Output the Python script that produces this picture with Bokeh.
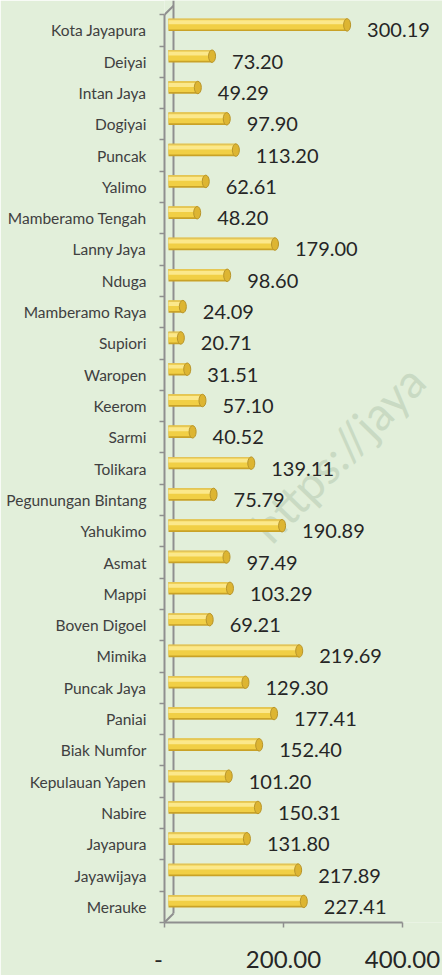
from bokeh.plotting import figure
from bokeh.models import Range1d, FixedTicker, ColumnDataSource
from bokeh.core.properties import value
from bokeh.embed import file_html
from bokeh.resources import INLINE

# ---------------- data ----------------
regions = ["Kota Jayapura", "Deiyai", "Intan Jaya", "Dogiyai", "Puncak", "Yalimo",
           "Mamberamo Tengah", "Lanny Jaya", "Nduga", "Mamberamo Raya", "Supiori",
           "Waropen", "Keerom", "Sarmi", "Tolikara", "Pegunungan Bintang", "Yahukimo",
           "Asmat", "Mappi", "Boven Digoel", "Mimika", "Puncak Jaya", "Paniai",
           "Biak Numfor", "Kepulauan Yapen", "Nabire", "Jayapura", "Jayawijaya", "Merauke"]
values = [300.19, 73.20, 49.29, 97.90, 113.20, 62.61, 48.20, 179.00, 98.60, 24.09,
          20.71, 31.51, 57.10, 40.52, 139.11, 75.79, 190.89, 97.49, 103.29, 69.21,
          219.69, 129.30, 177.41, 152.40, 101.20, 150.31, 131.80, 217.89, 227.41]
value_labels = ["%.2f" % v for v in values]
x_ticks = [0, 200, 400]
x_tick_labels = ["-\u00a0\u00a0", "200.00", "400.00"]
watermark = "https://jaya"

# ---------------- layout / style constants ----------------
W, H = 442, 975
LEFT, BOTTOM = 164, 50
X_PX = 0.595                       # pixels per value unit
X_END = (W - LEFT) / X_PX
N = len(regions)
Y_TOP = N - 0.5 + 14.3 / 31.47
Y_PX = (H - BOTTOM) / (Y_TOP + 0.5)
DEPTH_X = 4 / X_PX                 # bars sit slightly behind the front axis
BAR_LIFT = 5.5 / Y_PX
BAR_PX = 12.5
WALL_X = 9 / X_PX
WALL_DY = 9 / Y_PX

BG = "#E2EFDA"
GREY = "#8F8F8F"

ys = [N - 1 - i for i in range(N)]
src = ColumnDataSource(dict(
    y=ys,
    yb=[y + BAR_LIFT for y in ys],
    yb_body=[y + BAR_LIFT + 0.875 / Y_PX for y in ys],
    yb_hi=[y + BAR_LIFT + 2.6 / Y_PX for y in ys],
    yb_rim=[y + BAR_LIFT + 5.6 / Y_PX for y in ys],
    right=[v + DEPTH_X for v in values],
    label=value_labels,
))

p = figure(width=W, height=H, output_backend="svg", toolbar_location=None,
           x_range=Range1d(0, X_END), y_range=Range1d(-0.5, Y_TOP),
           min_border_left=LEFT, min_border_right=0, min_border_top=0,
           min_border_bottom=BOTTOM)
p.background_fill_color = BG
p.border_fill_color = BG
p.outline_line_color = None
p.xgrid.visible = False
p.ygrid.visible = False

# watermark
p.text(x=[95 / X_PX], y=[Y_TOP - 535 / Y_PX], text=[watermark], angle=0.80,
       text_font=value("Lato"), text_font_size="46px", text_color="#C9DAC3",
       text_baseline="alphabetic", text_align="left")

# 3D wall lines
p.segment(x0=[WALL_X, 0, 0], y0=[-0.5 + WALL_DY, N - 0.5, -0.5],
          x1=[WALL_X, WALL_X, WALL_X], y1=[Y_TOP, N - 0.5 + WALL_DY, -0.5 + WALL_DY],
          line_color=GREY, line_width=2)

# cylinder bars
p.hbar(y="yb", left=DEPTH_X, right="right", height=BAR_PX / Y_PX, source=src,
       fill_color="#C9A227", line_color=None)
p.hbar(y="yb_body", left=DEPTH_X, right="right", height=10.75 / Y_PX, source=src,
       fill_color="#F1CF45", line_color=None)
p.hbar(y="yb_hi", left=DEPTH_X, right="right", height=4 / Y_PX, source=src,
       fill_color="#FBE88C", line_color=None)
p.hbar(y="yb_rim", left=DEPTH_X, right="right", height=1.2 / Y_PX, source=src,
       fill_color="#E2C45A", line_color=None)
p.ellipse(x="right", y="yb", width=7, height=BAR_PX, width_units="screen",
          height_units="screen", source=src, fill_color="#DDB532",
          line_color="#B8952A", line_width=1)

# value labels
p.text(x="right", y="y", text="label", source=src, x_offset=20,
       text_baseline="middle", text_align="left", text_font=value("Lato"),
       text_font_size="20px", text_color="#262626")

# y axis (categories)
ya = p.yaxis[0]
ya.ticker = FixedTicker(ticks=ys, minor_ticks=[k - 0.5 for k in range(N + 1)])
ya.major_label_overrides = {y: name for y, name in zip(ys, regions)}
ya.bounds = (-0.5, N - 0.5)
ya.major_tick_out = 0
ya.major_tick_in = 0
ya.minor_tick_out = 5
ya.minor_tick_in = 0
ya.minor_tick_line_color = GREY
ya.minor_tick_line_width = 1.5
ya.axis_line_color = GREY
ya.axis_line_width = 2
ya.major_label_standoff = 13
ya.major_label_text_font = "Lato"
ya.major_label_text_font_size = "15.5px"
ya.major_label_text_color = "#404040"

# x axis
xa = p.xaxis[0]
xa.ticker = FixedTicker(ticks=x_ticks, minor_ticks=[])
xa.major_label_overrides = {t: s for t, s in zip(x_ticks, x_tick_labels)}
xa.bounds = (0, 400)
xa.major_tick_out = 5
xa.major_tick_in = 0
xa.minor_tick_out = 0
xa.major_tick_line_color = GREY
xa.major_tick_line_width = 1.5
xa.axis_line_color = GREY
xa.axis_line_width = 2
xa.major_label_standoff = 16
xa.major_label_text_font = "Lato"
xa.major_label_text_font_size = "24px"
xa.major_label_text_color = "#262626"

open("out.html", "w").write(file_html(p, INLINE))
